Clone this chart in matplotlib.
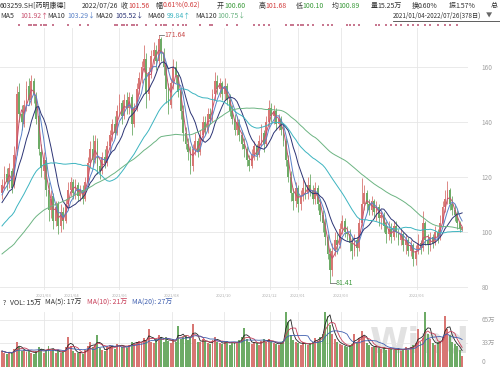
import numpy as np
import pandas as pd
import matplotlib
matplotlib.use("Agg")
import matplotlib.pyplot as plt
from matplotlib.lines import Line2D

plt.rcParams['font.family'] = ['Noto Sans CJK SC', 'DejaVu Sans']

# bi-daily candles, 2021/01/04 - 2022/07/26
opens = [114,117,121,118,122,117,130,151,143,139,
         146,153,148,155,149,142,129,122,126,115,
         108,113,104,110,102,107,104,110,115,118,
         114,117,113,115,112,118,125,130,126,133,
         124,122,127,125,131,135,139,136,144,147,
         142,148,145,149,139,145,152,156,160,163,
         150,158,164,166,162,170,165,160,152,146,
         154,160,157,151,144,136,132,129,124,130,
         133,129,135,140,137,143,141,150,155,152,
         154,150,153,148,144,141,137,140,135,132,
         130,126,124,128,131,128,133,136,132,140,
         145,142,144,139,141,137,133,126,120,114,
         111,116,110,113,116,114,117,115,112,116,
         110,106,103,98,92,86,93,97,95,101,
         104,100,99,96,93,97,94,103,110,114,
         110,108,111,107,109,105,106,102,99,101,
         98,102,100,97,99,95,97,93,95,90,
         93,96,94,103,97,95,98,96,100,98,
         103,109,112,115,110,108,106,103,100.60]
closes = [117,121,118,123,116,128,150,143,140,146,
          152,148,155,150,141,130,123,126,115,108,
          112,104,109,102,107,104,110,115,118,114,
          117,113,115,112,118,125,130,126,133,124,
          122,127,125,131,135,139,136,144,147,142,
          148,145,149,139,145,152,156,160,163,150,
          158,164,166,162,170,165,160,152,146,154,
          160,157,151,144,136,132,129,124,130,133,
          129,135,140,137,143,141,150,155,152,154,
          150,153,148,144,141,137,140,135,132,130,
          126,124,128,131,128,133,136,132,140,145,
          142,144,139,141,137,133,126,120,114,111,
          116,110,113,116,114,117,115,112,116,110,
          106,103,98,92,86,93,97,95,101,104,
          100,99,96,93,97,94,103,110,114,110,
          108,111,107,109,105,106,102,99,101,98,
          102,100,97,99,95,97,93,95,90,93,
          96,94,103,97,95,98,96,100,98,103,
          109,112,115,110,108,106,103,101,101.56]
highs = [119,124,123,125,123,131,153,154,146,148,
         155,156,157,156,151,143,132,129,127,118,
         115,114,111,111,110,109,112,118,120,119,
         119,118,117,117,120,127,133,135,135,134,
         126,129,130,133,137,141,142,146,150,148,
         150,151,151,150,147,154,158,162,168,165,
         160,166,169,168,171.64,171,167,161,154,156,
         163,162,158,152,146,138,134,131,132,136,
         134,137,142,142,145,145,152,158,157,156,
         155,156,154,150,146,143,142,141,137,134,
         131,128,130,133,132,135,139,137,142,148,
         147,146,145,143,142,139,134,128,122,116,
         118,117,115,119,118,120,121,117,118,117,
         112,108,105,99,94,96,100,99,103,106,
         105,102,101,98,99,98,105,119.5,117,115,
         112,113,112,111,110,108,107,104,104,103,
         104,104,101,101,100,99,98,97,96,95,
         99,97,107.5,104,99,100,99,102,101,106,
         111,115,118.4,116,113,110,108,104,101.68]
lows = [112,115,115,116,114,116,128,140,137,138,
        144,146,146,147,139,128,120,119,113,104,
        105,101,102,99,100,101,103,108,113,112,
        112,111,111,110,111,117,123,124,125,121,
        119,121,123,124,129,133,134,135,142,139,
        141,143,143,135,138,144,150,154,158,145,
        148,156,161,159,160,162,157,147,143,145,
        152,154,149,141,133,130,126,121,122,128,
        127,128,133,135,136,139,140,148,150,149,
        148,148,146,142,139,135,135,133,130,127,
        124,122,123,126,126,127,131,129,131,138,
        140,139,137,137,135,131,124,118,111,108,
        109,107,108,111,112,112,113,110,110,108,
        104,100,95,90,81.41,84,91,92,94,99,
        98,97,93,90,91,91,93,102,108,107,
        106,106,105,104,102,101,100,96,97,96,
        97,98,95,95,93,92,91,91,87.5,88,
        92,92,93,95,92,93,94,95,96,97,
        102,107,110,108,106,104,101,100,100.10]
# closes before the window, only used for the moving averages
pre_closes = [76,77,78,77,79,78,80,79,81,80,82,81,80,82,83,81,82,84,83,82,
              84,83,85,84,83,85,84,86,85,87,
              88,90,91,93,92,94,96,95,97,99,98,100,101,99,102,104,103,105,104,106,
              107,105,108,110,109,111,112,114,113]
volumes = [22,20,18,21,19,25,34,27,22,24,
           21,23,20,18,22,27,25,20,23,29,
           22,25,20,23,19,21,27,42,29,22,
           20,19,21,18,23,29,34,27,31,44,
           26,24,22,27,30,29,25,32,31,27,
           29,26,31,35,32,34,36,33,40,37,
           52,35,33,38,44,41,34,42,36,33,
           39,35,57,38,41,44,37,42,60,39,
           35,34,38,36,33,32,37,42,35,33,
           32,34,36,31,35,33,34,37,41,54,
           38,34,32,35,33,31,36,39,34,38,
           35,33,32,31,34,36,90,62,44,37,
           35,33,31,34,32,30,33,35,40,36,
           42,46,88,70,58,46,38,34,32,31,
           29,27,30,32,45,35,40,50,42,33,
           30,28,27,29,26,25,27,24,26,25,
           24,23,26,22,25,27,24,28,30,33,
           52,35,40,76,46,38,33,31,34,36,
           42,70,52,44,35,32,29,24,15.25]

month_idx = [17, 28.5, 48, 69.5, 90.5, 109.5, 121, 138.5, 169.5]
month_labels = ['2021/03', '2021/04', '2021/06', '2021/08', '2021/10',
                '2021/12', '2022/01', '2022/03', '2022/06']
event_idx = [7,11,12,13,14,16,17,18,21,27,32,35,46,47,49,50,51,53,54,55,59,63,65,66,67,
             70,72,74,75,81,85,86,92,96,103,105,107,109,116,118,119,121,122,123,125,127,
             131,133,135,141,142,144,146,153,154,157,159,161,163,166,168,170,173,175,178,
             181,183,186]

ma_names = ['MA5', 'MA10', 'MA20', 'MA60', 'MA120']
ma_windows = [3, 5, 10, 30, 60]
ma_last = ['101.92↑', '103.29↓', '105.52↓', '99.84↑', '100.75↓']
ma_colors = ['#c8506e', '#5a82c8', '#2c3475', '#3cb4c0', '#6cb482']

vol_ma_windows = [3, 5, 10]
vol_ma_colors = ['#222222', '#c8405a', '#4060b0']

price_ticks = [80, 100, 120, 140, 160]
vol_ticks = [0, 33, 65]
vol_tick_labels = ['0', '33万', '65万']

UP, DOWN = '#d87673', '#6dab66'
W, H = 500, 367

o = np.array(opens); c = np.array(closes)
h = np.array(highs); l = np.array(lows)
v = np.array(volumes)
x = np.arange(len(c))
up = c >= o
cols = np.where(up, UP, DOWN)

fig = plt.figure(figsize=(5, 3.67), dpi=100)
ax = fig.add_axes([0, 1 - 290 / H, 468 / W, (290 - 28) / H])
axv = fig.add_axes([0, 0, 468 / W, (367 - 312) / H])

# candles
ax.vlines(x, l, h, colors=cols, lw=0.6, zorder=2)
ax.bar(x, np.maximum(np.abs(c - o), 0.3), bottom=np.minimum(o, c), width=0.75,
       color=cols, lw=0, zorder=2)

full = pd.Series(pre_closes + closes)
for name, w, col in zip(ma_names, ma_windows, ma_colors):
    ma = full.rolling(w).mean().iloc[len(pre_closes):].values
    ax.plot(x, ma, color=col, lw=0.7, zorder=3)

# max / min labels
ih = int(np.argmax(h)); il = int(np.argmin(l))
ax.plot([ih, ih + 2.3], [h[ih], h[ih]], color='#555555', lw=0.5, zorder=4)
ax.text(ih + 2.5, h[ih], f'{h[ih]:.2f}', color='#c84a4a', fontsize=5, va='center')
ax.plot([il, il + 2.3], [l[il], l[il]], color='#555555', lw=0.5, zorder=4)
ax.text(il + 2.5, l[il], f'{l[il]:.2f}', color='#3f9a3f', fontsize=5, va='center')

# event markers above the chart
ax.scatter(event_idx, [1.012] * len(event_idx), s=1.2, marker='s', color='#c87890',
           transform=ax.get_xaxis_transform(), clip_on=False, lw=0)

ax.set_xlim(-0.82, 190.4)
ax.set_ylim(78.8, 174.1)
ax.set_yticks(price_ticks)
ax.set_xticks(month_idx)
ax.set_xticklabels([])
ax.grid(True, color='#e6e6e6', lw=0.6)
ax.set_axisbelow(True)
ax.yaxis.tick_right()
ax.tick_params(length=0, labelsize=4.6, labelcolor='#a0a0a0', pad=10)
for s in ax.spines.values():
    s.set_visible(False)
for xi, lab in zip(month_idx, month_labels):
    ax.text(xi, -0.012, lab, transform=ax.get_xaxis_transform(), fontsize=3,
            color='#b0b0b0', ha='center', va='top')

# volume panel
axv.text(420 / 468, 0.45, 'Wind', transform=axv.transAxes, fontsize=25,
         fontweight='bold', color='#e2e2e2', ha='center', va='center',
         family='DejaVu Sans', zorder=0)
axv.bar(x, v, width=0.8, color=cols, lw=0, zorder=2)
vs = pd.Series(volumes)
for w, col in zip(vol_ma_windows, vol_ma_colors):
    axv.plot(x, vs.rolling(w, min_periods=1).mean().values, color=col, lw=0.6, zorder=3)
axv.set_xlim(-0.82, 190.4)
axv.set_ylim(0, 75.9)
axv.set_yticks(vol_ticks)
axv.set_yticklabels([])
for val, lab in zip(vol_ticks, vol_tick_labels):
    axv.text(482 / 468, val + (1.5 if val == 0 else 0), lab,
             transform=axv.get_yaxis_transform(), fontsize=4.6, color='#a0a0a0',
             ha='left', va='bottom' if val == 0 else 'center', clip_on=False)
axv.set_xticks(month_idx)
axv.set_xticklabels([])
axv.grid(True, color='#e6e6e6', lw=0.6)
axv.set_axisbelow(True)
axv.tick_params(length=0)
for s in axv.spines.values():
    s.set_visible(False)


def t(px, py, s, color='#333333', size=5):
    fig.text(px / W, 1 - py / H, s, color=color, fontsize=size, ha='left', va='center')


RED, GREEN, DARK = '#d23c3c', '#3a9a3a', '#333333'
row1 = [(0, '603259.SH[药明康德]', DARK), (82, '2022/07/26', DARK),
        (121, '收', DARK), (128, '101.56', RED),
        (156, '幅', DARK), (163, '0.61%(0.62)', RED),
        (217, '开', DARK), (224, '100.60', GREEN),
        (259, '高', DARK), (265, '101.68', RED),
        (296, '低', DARK), (302, '100.10', GREEN),
        (332, '均', DARK), (338, '100.89', GREEN),
        (371, '量', DARK), (377, '15.25万', DARK),
        (412, '换', DARK), (418, '0.60%', DARK),
        (449, '振', DARK), (455, '1.57%', DARK), (491, '总', DARK)]
for px, s, col in row1:
    t(px, 6, s, col)

ma_label_x = [0, 47, 95, 147, 195]
ma_val_x = [20, 67, 115, 167, 217]
for name, val, col, lx, vx in zip(ma_names, ma_last, ma_colors, ma_label_x, ma_val_x):
    t(lx, 16, name, DARK)
    t(vx, 16, val, col)
t(393, 15.5, '2021/01/04-2022/07/26(378日)', DARK, size=4.5)
t(486, 15.5, '▼', '#666666', size=4.5)
fig.add_artist(Line2D([393 / W, 1.0], [1 - 21 / H] * 2, color='#444444', lw=0.6))

vol_legend = [(3, '?', DARK), (10, 'VOL: 15万', DARK), (45, 'MA(5): 17万', DARK),
              (87, 'MA(10): 21万', '#c8405a'), (132, 'MA(20): 27万', '#4060b0')]
for px, s, col in vol_legend:
    t(px, 303, s, col)

fig.savefig('out.png', dpi=100)
